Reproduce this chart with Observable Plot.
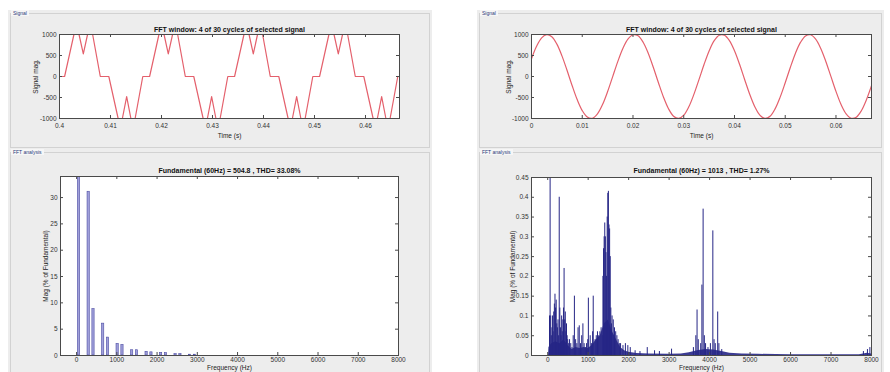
<!DOCTYPE html>
<html>
<head>
<meta charset="utf-8">
<script src="https://cdn.jsdelivr.net/npm/d3@7"></script>
<script src="https://cdn.jsdelivr.net/npm/@observablehq/plot@0.6"></script>
<style>
  html, body { margin: 0; padding: 0; background: #fff; }
  #root { position: relative; width: 890px; height: 372px; overflow: hidden; background: #fff; font-family: 'Liberation Sans', Arial, sans-serif; }
  .bg { position: absolute; background: #ededed; }
  .box { position: absolute; border: 1px solid #d2d2d2; box-sizing: border-box; }
  .tab { position: absolute; font-size: 5px; color: #2a3a7a; background: #f6f6f6; padding: 0 2px; line-height: 6px; }
  .pl { position: absolute; }
</style>
</head>
<body>
<div id="root">
  <div class="bg" style="left:8px;top:10px;width:424px;height:362px"></div>
  <div class="bg" style="left:477px;top:10px;width:407px;height:362px"></div>
  <div class="box" style="left:10px;top:13px;width:420px;height:135px"></div>
  <div class="box" style="left:10px;top:152px;width:420px;height:225px"></div>
  <div class="box" style="left:479px;top:13px;width:403px;height:135px"></div>
  <div class="box" style="left:479px;top:152px;width:403px;height:225px"></div>
  <div class="tab" style="left:11px;top:10px">Signal</div>
  <div class="tab" style="left:11px;top:149px">FFT analysis</div>
  <div class="tab" style="left:480px;top:10px">Signal</div>
  <div class="tab" style="left:480px;top:149px">FFT analysis</div>
  <div class="pl" id="p1" style="left:9px;top:18px"></div>
  <div class="pl" id="p2" style="left:479px;top:18px"></div>
  <div class="pl" id="p3" style="left:9px;top:158px"></div>
  <div class="pl" id="p4" style="left:479px;top:158px"></div>
</div>
<script>
// ---------- DATA ----------
const titleSignal = "FFT window: 4 of 30 cycles of selected signal";
const titleFftL = "Fundamental (60Hz) = 504.8 , THD= 33.08%";
const titleFftR = "Fundamental (60Hz) = 1013 , THD= 1.27%";
const labelTime = "Time (s)";
const labelSignal = "Signal mag.";
const labelFreq = "Frequency (Hz)";
const labelMag = "Mag (% of Fundamental)";

// Left signal: stepped multilevel waveform (breakpoints)
const sigTimeL = [0.4000, 0.4010, 0.40283, 0.40383, 0.40467, 0.40550, 0.40650, 0.40800, 0.40967, 0.41150, 0.41233, 0.41317, 0.41400, 0.41483, 0.41633,
  0.41767, 0.41950, 0.42050, 0.42133, 0.42217, 0.42317, 0.42467, 0.42633, 0.42817, 0.42900, 0.42983, 0.43067, 0.43150, 0.43300,
  0.43433, 0.43617, 0.43717, 0.43800, 0.43883, 0.43983, 0.44133, 0.44300, 0.44483, 0.44567, 0.44650, 0.44733, 0.44817, 0.44967,
  0.45100, 0.45283, 0.45383, 0.45467, 0.45550, 0.45650, 0.45800, 0.45967, 0.46150, 0.46233, 0.46317, 0.46400, 0.46483, 0.46633, 0.46667];
const sigValL = [0, 0, 1000, 1000, 540, 1000, 1000, 0, 0, -1000, -1000, -480, -1000, -1000, 0,
  0, 1000, 1000, 540, 1000, 1000, 0, 0, -1000, -1000, -480, -1000, -1000, 0,
  0, 1000, 1000, 540, 1000, 1000, 0, 0, -1000, -1000, -480, -1000, -1000, 0,
  0, 1000, 1000, 540, 1000, 1000, 0, 0, -1000, -1000, -480, -1000, -1000, 0, 0];
const timeTicksL = [0.4, 0.41, 0.42, 0.43, 0.44, 0.45, 0.46];

// Right signal: sinusoid samples every 1 ms
const sigTimeR = [0, 0.001, 0.002, 0.003, 0.004, 0.005, 0.006, 0.007, 0.008, 0.009,
  0.010, 0.011, 0.012, 0.013, 0.014, 0.015, 0.016, 0.017, 0.018, 0.019,
  0.020, 0.021, 0.022, 0.023, 0.024, 0.025, 0.026, 0.027, 0.028, 0.029,
  0.030, 0.031, 0.032, 0.033, 0.034, 0.035, 0.036, 0.037, 0.038, 0.039,
  0.040, 0.041, 0.042, 0.043, 0.044, 0.045, 0.046, 0.047, 0.048, 0.049,
  0.050, 0.051, 0.052, 0.053, 0.054, 0.055, 0.056, 0.057, 0.058, 0.059,
  0.060, 0.061, 0.062, 0.063, 0.064, 0.065, 0.066, 0.067];
const sigValR = [423, 719, 920, 999, 947, 770, 491, 148, -215, -550,
  -812, -967, -994, -890, -669, -359, -2, 355, 666, 888,
  994, 968, 815, 554, 220, -143, -488, -768, -946, -999,
  -921, -722, -426, -75, 286, 609, 853, 983, 984, 854,
  613, 290, -71, -422, -718, -920, -999, -947, -770, -491,
  -148, 215, 550, 812, 967, 994, 890, 669, 359, 2,
  -355, -666, -888, -994, -968, -815, -554, -220];
const timeTicksR = [0, 0.01, 0.02, 0.03, 0.04, 0.05, 0.06];
const sigTicksY = [-1000, -500, 0, 500, 1000];

// Left FFT: harmonic bars
const fftFreqL = [60, 300, 420, 660, 780, 1020, 1140, 1380, 1500, 1740, 1860, 2100, 2220, 2460, 2580, 2820, 2940];
const fftMagL  = [100, 31.1, 8.8, 6.05, 3.4, 2.2, 2.0, 1.0, 1.0, 0.7, 0.6, 0.5, 0.45, 0.25, 0.25, 0.15, 0.15];
const fftTicksYL = [0, 5, 10, 15, 20, 25, 30];

// Right FFT: spectral lines
const fftFreqR = [45, 60, 75, 90, 105, 120, 135, 150, 165, 180, 195, 210, 225, 240, 255, 270, 285, 300, 315, 330,
  345, 360, 375, 390, 405, 420, 435, 450, 465, 480, 495, 510, 540, 570, 600, 630, 660, 690, 720, 750,
  780, 810, 840, 870, 900, 930, 960, 990, 1005, 1050, 1080, 1110, 1125, 1170, 1200, 1230, 1260, 1290, 1320, 1350,
  1365, 1380, 1395, 1410, 1425, 1440, 1455, 1470, 1485, 1500, 1515, 1530, 1545, 1560, 1575, 1590, 1620, 1650, 1680, 1710,
  1740, 1770, 1800, 1860, 1920, 1980, 2040, 2160, 2280, 2460, 2640, 2760, 3060, 3600, 3660, 3690, 3720, 3780, 3810, 3840,
  3870, 3900, 3960, 4020, 4080, 4110, 4140, 4200, 4230, 4300, 7800, 7900, 7960];
const fftMagR = [0.10, 100, 0.10, 0.05, 0.07, 0.10, 0.06, 0.11, 0.13, 0.155, 0.12, 0.14, 0.08, 0.07, 0.09, 0.05, 0.40, 0.12, 0.07, 0.05,
  0.10, 0.06, 0.09, 0.12, 0.22, 0.09, 0.11, 0.06, 0.08, 0.05, 0.04, 0.03, 0.04, 0.03, 0.02, 0.05, 0.15, 0.04, 0.03, 0.07,
  0.075, 0.03, 0.05, 0.08, 0.03, 0.02, 0.03, 0.04, 0.145, 0.05, 0.03, 0.06, 0.15, 0.04, 0.05, 0.06, 0.05, 0.06, 0.07, 0.05,
  0.20, 0.27, 0.30, 0.335, 0.30, 0.26, 0.20, 0.35, 0.41, 0.415, 0.33, 0.32, 0.25, 0.12, 0.08, 0.10, 0.09, 0.07, 0.06, 0.05,
  0.04, 0.03, 0.03, 0.025, 0.03, 0.025, 0.02, 0.012, 0.01, 0.02, 0.012, 0.01, 0.016, 0.02, 0.05, 0.115, 0.04, 0.03, 0.178, 0.37,
  0.05, 0.03, 0.02, 0.03, 0.315, 0.04, 0.03, 0.11, 0.03, 0.015, 0.01, 0.015, 0.02];
// Right FFT: dense noise floor envelope
const floorFreqR = [20, 30, 100, 200, 300, 400, 500, 600, 700, 800, 900, 1000, 1100, 1200, 1300, 1400, 1500, 1600, 1700, 1800,
  1900, 2000, 2200, 2500, 3000, 3300, 3500, 3700, 3900, 4100, 4300, 4500, 4800, 5200, 6000, 7000, 7700, 7800, 7900, 8000];
const floorMagR = [0, 0.02, 0.03, 0.035, 0.03, 0.04, 0.025, 0.015, 0.02, 0.018, 0.02, 0.018, 0.025, 0.04, 0.05, 0.08, 0.09, 0.06, 0.04, 0.02,
  0.012, 0.008, 0.005, 0.004, 0.003, 0.004, 0.007, 0.012, 0.015, 0.014, 0.01, 0.006, 0.004, 0.003, 0.002, 0.002, 0.002, 0.004, 0.006, 0.004];
const fftTicksYR = [0, 0.05, 0.1, 0.15, 0.2, 0.25, 0.3, 0.35, 0.4, 0.45];
const freqTicks = [0, 1000, 2000, 3000, 4000, 5000, 6000, 7000, 8000];

// ---------- DRAWING ----------
const FONT = "'Liberation Sans', Arial, sans-serif";
const FRAME = "#4a4a4a";
const RED = "#e4606c";
const NAVY = "#262686";

function matPlot(o) {
  const fw = o.width - o.mL - o.mR, fh = o.height - o.mT - o.mB;
  const tk = 3;
  return Plot.plot({
    width: o.width, height: o.height,
    marginLeft: o.mL, marginRight: o.mR, marginTop: o.mT, marginBottom: o.mB,
    style: {background: "transparent", fontFamily: FONT, fontSize: "6.5px", color: "#333", overflow: "visible"},
    x: {domain: o.xDomain},
    y: {domain: o.yDomain},
    marks: [
      Plot.frame({fill: "white"}),
      ...o.marks,
      Plot.frame({stroke: FRAME, strokeWidth: 1}),
      Plot.tickX(o.xTicks, {x: d => d, insetTop: fh - tk, stroke: FRAME}),
      Plot.tickX(o.xTicks, {x: d => d, insetBottom: fh - tk, stroke: FRAME}),
      Plot.tickY(o.yTicks, {y: d => d, insetRight: fw - tk, stroke: FRAME}),
      Plot.tickY(o.yTicks, {y: d => d, insetLeft: fw - tk, stroke: FRAME}),
      Plot.axisX({ticks: o.xTicks, tickSize: 0, tickPadding: o.xPad, tickFormat: d => String(d), label: null, color: "#333"}),
      Plot.axisY({ticks: o.yTicks, tickSize: 0, tickPadding: 3, tickFormat: d => String(d), label: null, color: "#333"}),
      Plot.text([o.title], {frameAnchor: "top", dy: o.titleDy, lineAnchor: "middle", textAnchor: "middle", text: d => d, fontWeight: "bold", fontSize: 7, fill: "#111"}),
      Plot.text([o.xLabel], {frameAnchor: "bottom", dy: o.xLabelDy, lineAnchor: "middle", textAnchor: "middle", text: d => d, fill: "#222"}),
      Plot.text([o.yLabel], {frameAnchor: "left", dx: o.yLabelDx, rotate: -90, lineAnchor: "middle", textAnchor: "middle", text: d => d, fill: "#222"})
    ]
  });
}

const sigL = sigTimeL.map((t, i) => ({t, v: sigValL[i]}));
const sigR = sigTimeR.map((t, i) => ({t, v: sigValR[i]}));
const fftL = fftFreqL.map((f, i) => ({f, m: fftMagL[i]}));
const fftR = fftFreqR.map((f, i) => ({f, m: fftMagR[i]}));
const floorR = floorFreqR.map((f, i) => ({f, m: floorMagR[i]}));

document.getElementById("p1").append(matPlot({
  width: 425, height: 128, mL: 50, mR: 35, mT: 16, mB: 28,
  xDomain: [0.4, 0.46667], yDomain: [-1000, 1000],
  xTicks: timeTicksL, yTicks: sigTicksY, xPad: 5,
  title: titleSignal, titleDy: -5, xLabel: labelTime, xLabelDy: 17, yLabel: labelSignal, yLabelDx: -24,
  marks: [Plot.line(sigL, {x: "t", y: "v", stroke: RED, strokeWidth: 1.2})]
}));

document.getElementById("p2").append(matPlot({
  width: 405, height: 128, mL: 52, mR: 13, mT: 16, mB: 28,
  xDomain: [0, 0.067], yDomain: [-1000, 1000],
  xTicks: timeTicksR, yTicks: sigTicksY, xPad: 5,
  title: titleSignal, titleDy: -5, xLabel: labelTime, xLabelDy: 17, yLabel: labelSignal, yLabelDx: -23,
  marks: [Plot.line(sigR, {x: "t", y: "v", stroke: RED, strokeWidth: 1.2, curve: "catmull-rom", clip: true})]
}));

document.getElementById("p3").append(matPlot({
  width: 425, height: 214, mL: 51, mR: 36, mT: 18, mB: 17,
  xDomain: [-400, 8000], yDomain: [0, 34],
  xTicks: freqTicks, yTicks: fftTicksYL, xPad: 2,
  title: titleFftL, titleDy: -5.5, xLabel: labelFreq, xLabelDy: 12, yLabel: labelMag, yLabelDx: -15,
  marks: [Plot.rect(fftL, {x1: d => d.f - 28, x2: d => d.f + 28, y1: 0, y2: "m", fill: "#a0a0da", stroke: "#4c4ca4", strokeWidth: 0.6, clip: true})]
}));

document.getElementById("p4").append(matPlot({
  width: 405, height: 214, mL: 52, mR: 13, mT: 19, mB: 17,
  xDomain: [-400, 8000], yDomain: [0, 0.45],
  xTicks: freqTicks, yTicks: fftTicksYR, xPad: 2,
  title: titleFftR, titleDy: -7, xLabel: labelFreq, xLabelDy: 12, yLabel: labelMag, yLabelDx: -19,
  marks: [
    Plot.areaY(floorR, {x: "f", y: "m", fill: NAVY, fillOpacity: 0.9, clip: true}),
    Plot.ruleX(fftR, {x: "f", y1: 0, y2: "m", stroke: NAVY, strokeWidth: 1, clip: true})
  ]
}));
</script>
</body>
</html>
